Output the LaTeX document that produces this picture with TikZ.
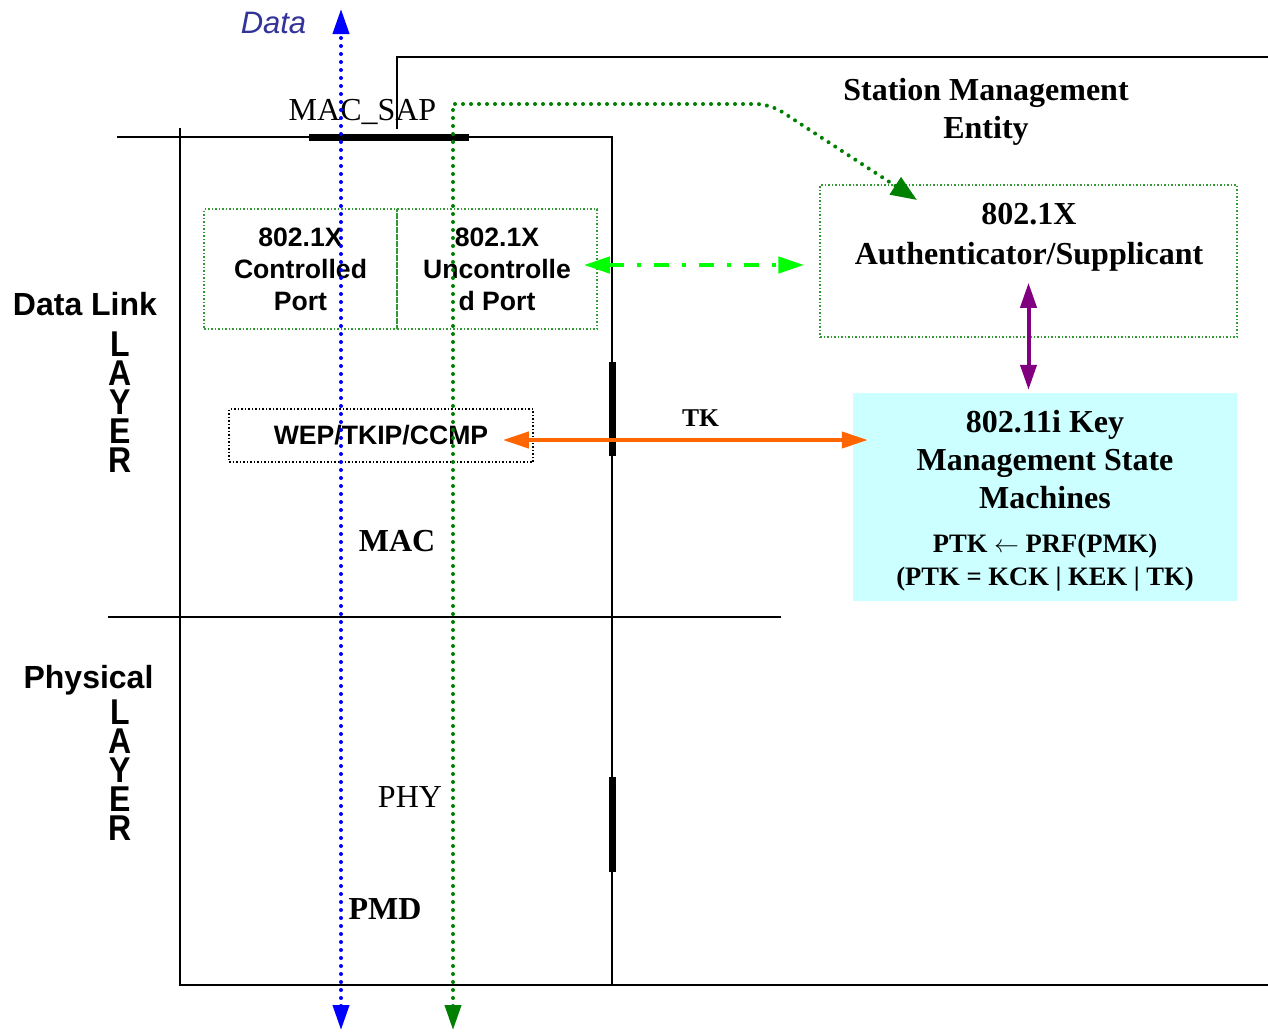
\documentclass[tikz,border=0pt]{standalone}
\usepackage{fontspec}
\setmainfont{Liberation Serif}
\setsansfont{Liberation Sans}
\usetikzlibrary{arrows.meta}
\definecolor{DataBlue}{HTML}{0000FF}
\definecolor{LabelBlue}{HTML}{333399}
\definecolor{MgmtGreen}{HTML}{008000}
\definecolor{PortGreen}{HTML}{339933}
\definecolor{LinkGreen}{HTML}{00FF00}
\definecolor{KeyPurple}{HTML}{800080}
\definecolor{TkOrange}{HTML}{FF6600}
\definecolor{KeyCyan}{HTML}{CCFFFF}
\newcommand{\layerstack}{\scalebox{1}[1.12]{\parbox[c]{30pt}{\centering L\\A\\Y\\E\\R}}}

\begin{document}
\begin{tikzpicture}[
    x=1pt, y=-1pt,
    frame/.style={
        draw=black,
        line width=2pt
    },
    busbar/.style={
        draw=black,
        line width=7pt
    },
    dotbox/.style={
        line width=1.5pt,
        dash pattern=on 1.5pt off 2pt,
        inner sep=0pt
    },
    portbox/.style={
        dotbox,
        draw=PortGreen,
        align=center,
        minimum height=120pt,
        font=\sffamily\bfseries\fontsize{26.6}{32}\selectfont
    },
    authbox/.style={
        dotbox,
        draw=PortGreen,
        minimum width=417pt,
        minimum height=152pt
    },
    cipherbox/.style={
        dotbox,
        draw=black,
        minimum width=304pt,
        minimum height=53pt,
        font=\sffamily\bfseries\fontsize{26.6}{32}\selectfont
    },
    keybox/.style={
        fill=KeyCyan,
        minimum width=384pt,
        minimum height=208pt
    },
    serbold/.style={
        font=\bfseries\fontsize{32}{38}\selectfont,
        align=center
    },
    serplain/.style={
        font=\fontsize{32}{38}\selectfont
    },
    layername/.style={
        font=\sffamily\bfseries\fontsize{32}{38}\selectfont
    },
    layerword/.style={
        font=\sffamily\bfseries\fontsize{32}{26}\selectfont,
        inner sep=0pt
    },
    dataflow/.style={
        draw=DataBlue,
        line width=4pt,
        line cap=round,
        dash pattern=on 0pt off 8pt,
        {Triangle[length=25pt,width=16pt]}-{Triangle[length=25pt,width=16pt]}
    },
    mgmtflow/.style={
        draw=MgmtGreen,
        line width=4pt,
        line cap=round,
        dash pattern=on 0pt off 8pt,
        {Triangle[length=25pt,width=16pt]}-{Triangle[length=26pt,width=20pt]}
    },
    linkflow/.style={
        draw=LinkGreen,
        line width=4.5pt,
        dash pattern=on 15pt off 13pt on 4pt off 13pt,
        {Triangle[length=26pt,width=16pt]}-{Triangle[length=26pt,width=16pt]}
    },
    keyflow/.style={
        draw=KeyPurple,
        line width=4pt,
        {Triangle[length=25pt,width=16pt]}-{Triangle[length=25pt,width=16pt]}
    },
    tkflow/.style={
        draw=TkOrange,
        line width=4pt,
        {Triangle[length=26pt,width=16pt]}-{Triangle[length=26pt,width=16pt]}
    }
]

% Background
\useasboundingbox (0,0) rectangle (1268,1031);
\fill[white] (0,0) rectangle (1268,1031);

% Key management box
\node[keybox] (kms) at (1045,497) {};

% Port boxes and authenticator
\node[portbox, minimum width=193pt] (ctrl) at (300.5,269) {802.1X\\Controlled\\Port};
\node[portbox, minimum width=200pt] (unctrl) at (497,269) {802.1X\\Uncontrolle\\d Port};
\node[authbox] (auth) at (1028.5,261) {};
\node[cipherbox] (cipher) at (381,435.5) {WEP/TKIP/CCMP};

% Layer frame
\draw[frame] (397,129) -- (397,57) -- (1268,57);
\draw[frame] (117,137) -- (612,137) -- (612,985);
\draw[frame] (180,128) -- (180,985) -- (1268,985);
\draw[frame] (108,617) -- (781,617);

% Service access points
\draw[busbar] (309,137) -- (469,137);
\draw[busbar] (612,362) -- (612,456);
\draw[busbar] (612,777) -- (612,872);

% Labels
\node[font=\sffamily\itshape\fontsize{31}{38}\selectfont, text=LabelBlue] (data) at (273.5,22.5) {Data};
\node[serplain] (macsap) at (362.5,112) {MAC\_SAP};
\node[serbold] (sme) at (986,112) {Station Management\\Entity};
\node[serbold, font=\bfseries\fontsize{32}{40}\selectfont] (authtext) at (1029,237) {802.1X\\Authenticator/Supplicant};
\node[serbold] (kmstext) at (1045,460) {802.11i Key\\Management State\\Machines};
\node[serbold, font=\bfseries\fontsize{26.6}{33}\selectfont] (ptk) at (1045,562.5) {PTK $\leftarrow$ PRF(PMK)\\(PTK = KCK | KEK | TK)};
\node[layername] (dll) at (85,304) {Data Link};
\node[layerword] (dlllayer) at (120,402) {\layerstack};
\node[layername] (phy) at (88.5,680) {Physical};
\node[layerword] (phylayer) at (120,770) {\layerstack};
\node[serbold] (mac) at (397,541) {MAC};
\node[serplain] (phytext) at (410,797) {PHY};
\node[serbold] (pmd) at (385,909) {PMD};
\node[serbold, font=\bfseries\fontsize{25.6}{30}\selectfont] (tk) at (700.5,418.5) {TK};

% Data and management paths
\coordinate (datatop) at (341,9);
\coordinate (databot) at (341,1030);
\coordinate (mgmtbot) at (453,1030);
\coordinate (sapturn) at (453,104);
\coordinate (smebend) at (770,104);
\coordinate (smetip) at (917,200);

\draw[dataflow] (databot) -- (datatop);
\draw[mgmtflow] (mgmtbot) -- (sapturn) [rounded corners=14pt] -- (smebend) -- (smetip);

% Port, key and TK links
\draw[linkflow] ([xshift=-14pt,yshift=4pt]unctrl.east) -- ([xshift=-15pt,yshift=-4pt]auth.west);
\draw[keyflow] ([yshift=55pt]auth.south) -- ([xshift=-16.5pt,yshift=3pt]kms.north);
\draw[tkflow] ([xshift=-31pt,yshift=-4.5pt]cipher.east) -- ([xshift=15pt,yshift=57pt]kms.west);

\end{tikzpicture}
\end{document}
